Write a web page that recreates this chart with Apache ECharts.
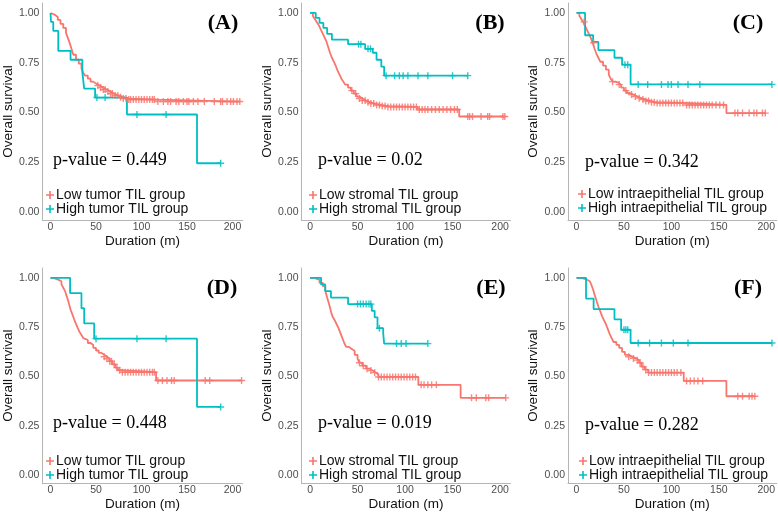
<!DOCTYPE html>
<html><head><meta charset="utf-8">
<script src="https://cdn.jsdelivr.net/npm/echarts@6/dist/echarts.min.js"></script>
<style>html,body{margin:0;padding:0;background:#fff}#c{width:778px;height:512px}</style>
</head><body><div id="c"></div><script>
// ---------- DATA (Kaplan-Meier step curves: event times, survival, censor times) ----------
const xTicks = [0, 50, 100, 150, 200];
const yTicks = [0, 0.25, 0.5, 0.75, 1];
const panelLetters = ['(A)', '(B)', '(C)', '(D)', '(E)', '(F)'];
const pValues = ['0.449', '0.02', '0.342', '0.448', '0.019', '0.282'];
const groupKinds = ['tumor', 'stromal', 'intraepithelial', 'tumor', 'stromal', 'intraepithelial'];

// Panel A
const A_low_t = [0, 2, 5, 8, 11, 14, 17, 19, 21, 23, 25, 28, 31, 34, 36, 38, 41, 44, 47, 50, 54, 58, 62, 66, 70, 75, 80, 86, 116, 208];
const A_low_s = [1, 0.99, 0.98, 0.965, 0.945, 0.925, 0.90, 0.875, 0.85, 0.82, 0.79, 0.765, 0.745, 0.72, 0.70, 0.685, 0.67, 0.655, 0.645, 0.635, 0.625, 0.615, 0.605, 0.595, 0.585, 0.577, 0.57, 0.565, 0.555, 0.555];
const A_low_c = [52, 55, 58, 60, 63, 66, 68, 71, 74, 77, 80, 83, 86, 88, 91, 94, 97, 100, 103, 106, 109, 112, 114, 118, 124, 129, 132, 138, 141, 146, 150, 152, 157, 162, 169, 180, 187, 189, 194, 198, 201, 205, 208];
const A_high_t = [0, 0.5, 3, 8.5, 22, 35, 37, 49, 84, 161, 187];
const A_high_s = [1, 0.955, 0.91, 0.81, 0.765, 0.70, 0.62, 0.575, 0.49, 0.245, 0.245];
const A_high_c = [51, 60, 95, 127, 187];

// Panel B
const B_low_t = [0, 3, 5, 7, 9, 11, 13, 15, 17, 19, 21, 23, 25, 27, 29, 31, 33, 35, 37, 40, 43, 46, 49, 52, 55, 59, 63, 68, 75, 82, 113, 157, 205];
const B_low_s = [1, 0.985, 0.97, 0.955, 0.94, 0.92, 0.90, 0.88, 0.86, 0.83, 0.80, 0.775, 0.755, 0.735, 0.71, 0.69, 0.67, 0.655, 0.64, 0.625, 0.61, 0.595, 0.58, 0.57, 0.56, 0.552, 0.545, 0.538, 0.532, 0.528, 0.515, 0.48, 0.48];
const B_low_c = [44, 48, 52, 55, 58, 61, 64, 67, 70, 73, 76, 79, 82, 85, 88, 91, 94, 97, 100, 103, 106, 109, 112, 115, 118, 121, 124, 128, 132, 136, 140, 144, 148, 152, 155, 166, 168, 171, 180, 187, 189, 203, 205];
const B_high_t = [0, 6, 10, 14, 18, 23, 40, 58, 66, 70, 75, 78, 166];
const B_high_s = [1, 0.975, 0.95, 0.925, 0.895, 0.866, 0.843, 0.82, 0.80, 0.765, 0.73, 0.685, 0.685];
const B_high_c = [51, 53.5, 61, 63.6, 80, 89, 94, 98, 103, 113.6, 124, 150, 166];

// Panel C
const C_low_t = [0, 3, 5, 7, 9, 11, 13, 15, 17, 19, 21, 23, 25, 28, 31, 34, 36, 38, 41, 44, 47, 50, 53, 56, 60, 64, 68, 73, 78, 83, 114, 158, 199];
const C_low_s = [1, 0.985, 0.97, 0.955, 0.935, 0.915, 0.895, 0.875, 0.85, 0.82, 0.795, 0.775, 0.755, 0.735, 0.715, 0.69, 0.67, 0.655, 0.65, 0.64, 0.625, 0.61, 0.598, 0.59, 0.58, 0.572, 0.565, 0.558, 0.552, 0.548, 0.538, 0.497, 0.497];
const C_low_c = [8, 18, 38, 45, 52, 58, 62, 66, 70, 73, 76, 79, 82, 85, 88, 91, 94, 97, 100, 103, 106, 109, 112, 116, 119, 122, 125, 128, 131, 134, 137, 140, 143, 147, 151, 155, 167, 170, 175, 182, 187, 190, 196, 199];
const C_high_t = [0, 9, 17.5, 23, 40, 48, 57, 206];
const C_high_s = [1, 0.888, 0.855, 0.813, 0.775, 0.74, 0.641, 0.641];
const C_high_c = [51, 54, 65, 75, 89.5, 96.5, 100, 107, 117.5, 130, 206];

// Panel D
const D_low_t = [0, 3, 6, 9, 12, 14, 16, 17.5, 19, 20.5, 22, 24, 26, 28, 30, 32, 34, 36, 38, 41, 44, 47, 50, 53, 56, 59, 62, 65, 68, 71, 74, 77, 116, 210];
const D_low_s = [1, 0.995, 0.99, 0.983, 0.967, 0.95, 0.933, 0.91, 0.89, 0.865, 0.84, 0.815, 0.79, 0.767, 0.745, 0.725, 0.71, 0.695, 0.685, 0.67, 0.66, 0.645, 0.632, 0.62, 0.61, 0.60, 0.59, 0.578, 0.562, 0.545, 0.532, 0.522, 0.48, 0.48];
const D_low_c = [59, 62, 65, 67, 70, 73, 76, 79, 82, 85, 88, 91, 94, 97, 100, 103, 106, 109, 112, 114, 118, 123, 128, 133, 136, 170, 175, 210];
const D_high_t = [0, 21.5, 34, 37, 48, 161, 187];
const D_high_s = [1, 0.923, 0.846, 0.769, 0.692, 0.346, 0.346];
const D_high_c = [50, 95, 127, 187];

// Panel E
const E_low_t = [0, 4.6, 10, 13.4, 16, 18, 19.5, 21, 22.5, 24, 26, 28, 30, 32, 34, 36, 38, 41, 44, 47, 50, 52, 55, 59, 63, 66, 69, 72, 114, 158.5, 206];
const E_low_s = [1, 0.99, 0.975, 0.958, 0.935, 0.9, 0.875, 0.85, 0.82, 0.80, 0.785, 0.765, 0.745, 0.72, 0.695, 0.67, 0.65, 0.64, 0.63, 0.61, 0.59, 0.57, 0.555, 0.54, 0.53, 0.52, 0.51, 0.498, 0.458, 0.392, 0.392];
const E_low_c = [52, 56, 60, 64, 68, 72, 75, 78, 81, 84, 87, 90, 93, 96, 99, 102, 105, 108, 111, 117, 120, 124, 128, 133, 170, 175, 185, 188, 206];
const E_high_t = [0, 11.6, 16, 22, 40, 65, 68, 71, 77, 78, 124];
const E_high_s = [1, 0.967, 0.933, 0.90, 0.867, 0.833, 0.80, 0.745, 0.72, 0.667, 0.667];
const E_high_c = [50, 53, 56, 59, 62, 64, 73, 91, 96, 101, 124];

// Panel F
const F_low_t = [0, 5, 10.5, 14, 16, 17.5, 19, 21, 23, 25, 27, 29, 31, 33, 35, 37, 39, 42, 45, 48, 51, 55, 59, 63, 66, 68.5, 72, 75.5, 113, 158, 188];
const F_low_s = [1, 0.992, 0.983, 0.975, 0.96, 0.94, 0.915, 0.885, 0.855, 0.83, 0.805, 0.785, 0.765, 0.74, 0.715, 0.695, 0.675, 0.66, 0.645, 0.625, 0.61, 0.60, 0.592, 0.583, 0.57, 0.55, 0.535, 0.52, 0.478, 0.40, 0.40];
const F_low_c = [55, 60, 64, 67, 70, 73, 76, 79, 82, 85, 88, 91, 94, 97, 100, 103, 106, 110, 116, 120, 124, 128, 133, 170, 175, 182, 185, 188];
const F_high_t = [0, 10, 18, 40, 47, 57, 206];
const F_high_s = [1, 0.895, 0.842, 0.79, 0.737, 0.67, 0.67];
const F_high_c = [50, 52, 54, 65, 77, 89.5, 102, 117.5, 206];

// ---------- ASSEMBLY ----------
const curves = [
  [[A_low_t, A_low_s, A_low_c], [A_high_t, A_high_s, A_high_c]],
  [[B_low_t, B_low_s, B_low_c], [B_high_t, B_high_s, B_high_c]],
  [[C_low_t, C_low_s, C_low_c], [C_high_t, C_high_s, C_high_c]],
  [[D_low_t, D_low_s, D_low_c], [D_high_t, D_high_s, D_high_c]],
  [[E_low_t, E_low_s, E_low_c], [E_high_t, E_high_s, E_high_c]],
  [[F_low_t, F_low_s, F_low_c], [F_high_t, F_high_s, F_high_c]]
];

const RED = '#F8766D', TEAL = '#00BFC4';
const colLeft = [35.5, 301.5, 568];
const colWidth = [207, 209, 209];
const rowTop = [3, 268];
const rowHeight = [217, 218];
const letterPos = [[223, 23.5], [490, 23.5], [748, 23.5], [222, 288], [491, 288], [748, 288]];
const pPos = [[53, 160], [318, 160], [585, 162], [53, 423], [318, 423], [585, 425]];
const legendPos = [[46, 188], [309, 188], [578, 187], [46, 454], [309, 454], [579, 454]];

const plusPath = 'path://M0,4H10V6H0Z M4,0H6V10H4Z';

function survAt(t, s, x) {
  let v = s[0];
  for (let i = 0; i < t.length; i++) if (t[i] <= x) v = s[i];
  return v;
}

const grids = [], xAxes = [], yAxes = [], series = [], legends = [], graphics = [];
for (let i = 0; i < 6; i++) {
  const r = Math.floor(i / 3), c = i % 3;
  grids.push({left: colLeft[c], width: colWidth[c], top: rowTop[r], height: rowHeight[r], containLabel: false});
  xAxes.push({
    type: 'value', gridIndex: i, min: -9, max: 211,
    splitLine: {show: false}, axisTick: {show: false},
    axisLine: {show: true, onZero: false, lineStyle: {color: '#b5b5b5', width: 1}},
    axisLabel: {customValues: xTicks, fontSize: 10.5, color: '#4d4d4d', margin: 2, fontFamily: 'Liberation Sans'},
    name: 'Duration (m)', nameLocation: 'middle', nameGap: 9,
    nameTextStyle: {fontSize: 13.5, color: '#111', fontFamily: 'Liberation Sans', verticalAlign: 'top'}
  });
  yAxes.push({
    type: 'value', gridIndex: i, min: -0.04, max: 1.05,
    splitLine: {show: false}, axisTick: {show: false},
    axisLine: {show: true, onZero: false, lineStyle: {color: '#b5b5b5', width: 1}},
    axisLabel: {customValues: yTicks, fontSize: 10.5, color: '#4d4d4d', margin: 3, fontFamily: 'Liberation Sans',
      formatter: v => v.toFixed(2)},
    name: 'Overall survival', nameLocation: 'middle', nameGap: 22,
    nameTextStyle: {fontSize: 13.5, color: '#111', fontFamily: 'Liberation Sans'}
  });
  const kind = groupKinds[i];
  const names = ['Low ' + kind + ' TIL group', 'High ' + kind + ' TIL group'];
  const cols = [RED, TEAL];
  for (let g = 0; g < 2; g++) {
    const [t, s, cz] = curves[i][g];
    series.push({
      type: 'line', name: names[g], xAxisIndex: i, yAxisIndex: i, step: 'end',
      showSymbol: false, symbol: 'none', color: cols[g],
      lineStyle: {color: cols[g], width: 1.8}, z: 3,
      data: t.map((x, k) => [x, s[k]])
    });
    series.push({
      type: 'scatter', name: names[g], xAxisIndex: i, yAxisIndex: i,
      symbol: plusPath, symbolSize: 7, itemStyle: {color: cols[g], opacity: 0.85}, z: 4,
      data: cz.map(x => [x, survAt(t, s, x)])
    });
  }
  legends.push({
    orient: 'vertical', left: legendPos[i][0], top: legendPos[i][1], padding: 0, itemGap: 0,
    itemWidth: 8, itemHeight: 8, icon: plusPath,
    data: names.map((n, g) => ({name: n, icon: plusPath, itemStyle: {color: cols[g]}})),
    textStyle: {fontSize: 14, lineHeight: 13, color: '#111', fontFamily: 'Liberation Sans', padding: [0, 0, 0, -3]},
    selectedMode: false
  });
  graphics.push({
    type: 'text', x: letterPos[i][0], y: letterPos[i][1],
    style: {text: panelLetters[i], fontSize: 22, fontWeight: 'bold', fontFamily: 'Liberation Serif',
      fill: '#000', align: 'center', verticalAlign: 'middle'}
  });
  graphics.push({
    type: 'text', x: pPos[i][0], y: pPos[i][1],
    style: {text: 'p-value = ' + pValues[i], fontSize: 18, fontFamily: 'Liberation Serif',
      fill: '#000', align: 'left', verticalAlign: 'middle'}
  });
}

const chart = echarts.init(document.getElementById('c'), null, {renderer: 'canvas'});
chart.setOption({
  animation: false,
  backgroundColor: '#fff',
  grid: grids, xAxis: xAxes, yAxis: yAxes, series: series, legend: legends,
  graphic: graphics
});
</script></body></html>
